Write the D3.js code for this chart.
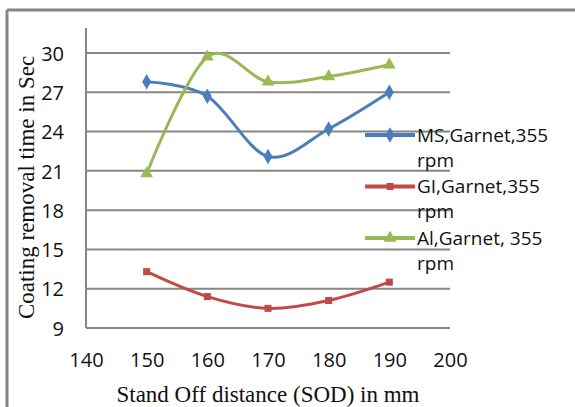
<!DOCTYPE html>
<html>
<head>
<meta charset="utf-8">
<script src="https://cdn.jsdelivr.net/npm/d3@7/dist/d3.min.js"></script>
<style>
  html, body { margin: 0; padding: 0; background: #fff; }
  svg { display: block; }
</style>
</head>
<body>
<div id="chart"></div>
<script>
/** Data */
const sod = [150, 160, 170, 180, 190];
const msGarnet = [27.8, 26.7, 22.1, 24.2, 27.0];
const giGarnet = [13.3, 11.4, 10.5, 11.1, 12.5];
const alGarnet = [20.8, 29.7, 27.8, 28.2, 29.1];
const xTicks = [140, 150, 160, 170, 180, 190, 200];
const yTicks = [9, 12, 15, 18, 21, 24, 27, 30];
const seriesNames = [["MS,Garnet,355", "rpm"], ["GI,Garnet,355", "rpm"], ["Al,Garnet, 355", "rpm"]];

/** Graph configs */
const width = 575;
const height = 407;
const plot = { left: 86, right: 450, top: 53, bottom: 328 };
const gridColor = "#868686";

const series = [
  { name: seriesNames[0], values: msGarnet, color: "#4a7ebb", marker: d3.symbolDiamond, size: 70 },
  { name: seriesNames[1], values: giGarnet, color: "#be4b48", marker: d3.symbolSquare, size: 50 },
  { name: seriesNames[2], values: alGarnet, color: "#98b954", marker: d3.symbolTriangle, size: 70 },
];

/** Scales */
const xScale = d3.scaleLinear().domain([140, 200]).range([plot.left, plot.right]);
const yScale = d3.scaleLinear().domain([9, 30]).range([plot.bottom, plot.top]);

const svg = d3.select("#chart").append("svg")
  .attr("width", width)
  .attr("height", height);

/** Outer frame (top and left edges visible) */
svg.append("line").attr("x1", 7).attr("x2", width).attr("y1", 10).attr("y2", 10)
  .attr("stroke", "#858585").attr("stroke-width", 3);
svg.append("line").attr("x1", 7).attr("x2", 7).attr("y1", 10).attr("y2", height)
  .attr("stroke", "#858585").attr("stroke-width", 3);

/** Horizontal gridlines */
svg.append("g").selectAll("line").data(yTicks).enter().append("line")
  .attr("x1", plot.left).attr("x2", plot.right)
  .attr("y1", (d) => yScale(d)).attr("y2", (d) => yScale(d))
  .attr("stroke", gridColor).attr("stroke-width", 2);

/** Vertical axis line */
svg.append("line")
  .attr("x1", plot.left).attr("x2", plot.left)
  .attr("y1", plot.top - 25).attr("y2", plot.bottom)
  .attr("stroke", gridColor).attr("stroke-width", 2);

/** Y axis tick labels */
const yAxis = svg.append("g")
  .attr("transform", `translate(${plot.left - 22},0)`)
  .call(d3.axisLeft(yScale).tickValues(yTicks).tickSize(0).tickPadding(0));
yAxis.select(".domain").remove();
yAxis.selectAll("text")
  .attr("font-family", "'Open Sans', sans-serif")
  .attr("font-size", 20)
  .attr("fill", "#111")
  .attr("dy", "0.36em");

/** X axis tick labels */
const xAxis = svg.append("g")
  .attr("transform", `translate(0,${plot.bottom + 25})`)
  .call(d3.axisBottom(xScale).tickValues(xTicks).tickSize(0).tickPadding(0));
xAxis.select(".domain").remove();
xAxis.selectAll("text")
  .attr("font-family", "'Open Sans', sans-serif")
  .attr("font-size", 20)
  .attr("fill", "#111");

/** Axis titles */
svg.append("text")
  .attr("x", (plot.left + plot.right) / 2)
  .attr("y", 402)
  .attr("text-anchor", "middle")
  .attr("font-family", "'Liberation Serif', 'Times New Roman', serif")
  .attr("font-size", 23)
  .attr("fill", "#111")
  .text("Stand Off distance (SOD) in mm");

svg.append("text")
  .attr("transform", `translate(34,${(plot.top + plot.bottom) / 2 - 3}) rotate(-90)`)
  .attr("text-anchor", "middle")
  .attr("font-family", "'Liberation Serif', 'Times New Roman', serif")
  .attr("font-size", 23)
  .attr("fill", "#111")
  .text("Coating removal time in Sec");

/** Lines and markers */
const line = d3.line()
  .x((d, i) => xScale(sod[i]))
  .y((d) => yScale(d))
  .curve(d3.curveCatmullRom.alpha(0));

series.forEach((s) => {
  svg.append("path")
    .attr("d", line(s.values))
    .attr("fill", "none")
    .attr("stroke", s.color)
    .attr("stroke-width", 3)
    .attr("stroke-linejoin", "round");
  svg.append("g").selectAll("path").data(s.values).enter().append("path")
    .attr("transform", (d, i) => `translate(${xScale(sod[i])},${yScale(d)})`)
    .attr("d", d3.symbol().type(s.marker).size(s.size))
    .attr("fill", s.color);
});

/** Legend */
const legend = svg.append("g");
series.forEach((s, i) => {
  const y = 135 + i * 51.5;
  legend.append("line")
    .attr("x1", 365).attr("x2", 415).attr("y1", y).attr("y2", y)
    .attr("stroke", s.color).attr("stroke-width", 4);
  legend.append("path")
    .attr("transform", `translate(390,${y})`)
    .attr("d", d3.symbol().type(s.marker).size(s.size))
    .attr("fill", s.color);
  s.name.forEach((t, j) => {
    legend.append("text")
      .attr("x", 417)
      .attr("y", y + j * 25)
      .attr("dy", "0.36em")
      .attr("font-family", "'Open Sans', sans-serif")
      .attr("font-size", 19)
      .attr("fill", "#111")
      .text(t);
  });
});
</script>
</body>
</html>
